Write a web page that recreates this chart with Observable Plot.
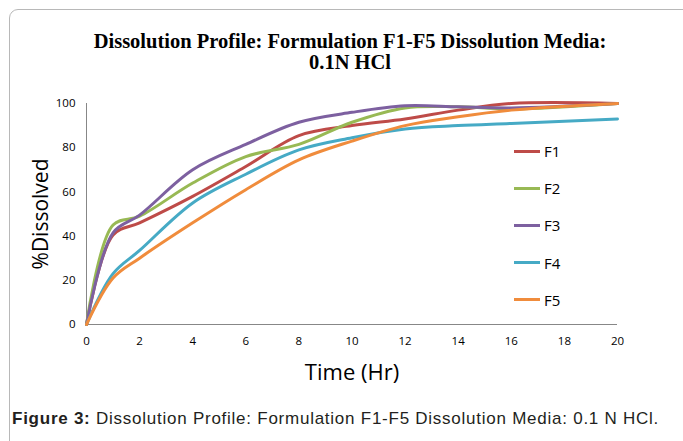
<!DOCTYPE html>
<html>
<head>
<meta charset="utf-8">
<script src="https://cdn.jsdelivr.net/npm/d3@7"></script>
<script src="https://cdn.jsdelivr.net/npm/@observablehq/plot@0.6"></script>
<style>
  html, body { margin: 0; padding: 0; background: #fff; }
  #fig { position: relative; width: 683px; height: 441px; overflow: hidden; font-family: "Open Sans", sans-serif; }
  #frame { position: absolute; left: 9px; top: 9px; width: 700px; height: 470px; border: 1.5px solid #b8b8b8; border-radius: 9px; box-sizing: border-box; }
  #title { position: absolute; left: 40px; width: 620px; top: 31px; text-align: center; font-family: "Liberation Serif", serif; font-weight: bold; font-size: 20.5px; line-height: 21px; color: #000; }
  #chart { position: absolute; left: 0; top: 88px; }
  #legend { position: absolute; left: 514px; top: 0; }
  .item { position: absolute; left: 0; height: 20px; display: flex; align-items: center; white-space: nowrap; font-size: 15px; color: #000; }
  .sw { width: 26px; height: 3px; margin-right: 4px; }
  #caption { position: absolute; left: 12px; top: 409px; font-family: "Liberation Sans", Arial, sans-serif; font-size: 17px; letter-spacing: 0.75px; color: #231f20; white-space: nowrap; }
  #chart svg g[aria-label="y-axis label"] text { font-size: 21px; font-family: "Open Sans", sans-serif; fill: #000; }
  #chart svg g[aria-label="x-axis label"] text { font-size: 22px; font-family: "Open Sans", sans-serif; fill: #000; }
</style>
</head>
<body>
<div id="fig">
  <div id="frame"></div>
  <div id="title">Dissolution Profile: Formulation F1-F5 Dissolution Media:<br>0.1N HCl</div>
  <div id="chart"></div>
  <div id="legend"></div>
  <div id="caption"><b>Figure 3:</b> Dissolution Profile: Formulation F1-F5 Dissolution Media: 0.1 N HCl.</div>
</div>
<script>
const series = ["F1", "F2", "F3", "F4", "F5"];
const colors = ["#BE4B48", "#98B954", "#7D60A0", "#46AAC5", "#F08C3C"];
const time = [0, 1, 2, 4, 6, 8, 10, 12, 14, 16, 20];
const F1 = [0, 40.5, 46, 58, 71.5, 85.5, 90, 93, 97, 100, 100];
const F2 = [0, 45, 49, 64, 76, 81.5, 91.5, 98, 98.5, 97.5, 100];
const F3 = [0, 41.5, 49.5, 70, 81.5, 91.5, 96, 99, 98.5, 98, 100];
const F4 = [0, 23, 33.5, 55, 68, 79, 84.5, 88.5, 90, 91, 93];
const F5 = [0, 21, 30, 46, 61, 74.5, 83, 90, 94, 97, 100];
const xTicks = [0, 2, 4, 6, 8, 10, 12, 14, 16, 18, 20];
const yTicks = [0, 20, 40, 60, 80, 100];

const values = [F1, F2, F3, F4, F5];
const data = [];
series.forEach((s, i) => time.forEach((t, j) => data.push({series: s, time: t, value: values[i][j]})));

const chart = Plot.plot({
  width: 683,
  height: 312,
  marginLeft: 86,
  marginRight: 66,
  marginTop: 15,
  marginBottom: 76,
  style: {fontFamily: "Open Sans, sans-serif", fontSize: "11.5px", color: "#000", background: "transparent"},
  x: {domain: [0, 20]},
  y: {domain: [0, 100]},
  color: {domain: series, range: colors},
  marks: [
    Plot.axisX({ticks: xTicks, tickSize: 0, tickPadding: 12, label: "Time (Hr)", labelAnchor: "center", labelOffset: 55, labelArrow: "none"}),
    Plot.axisY({ticks: yTicks, tickSize: 0, tickPadding: 11, label: "%Dissolved", labelAnchor: "center", labelOffset: 53, labelArrow: "none"}),
    Plot.ruleX([0], {stroke: "#878787", strokeWidth: 1}),
    Plot.ruleY([0], {stroke: "#878787", strokeWidth: 1}),
    Plot.line(data, {x: "time", y: "value", z: "series", stroke: "series", curve: "catmull-rom", strokeWidth: 3})
  ]
});
document.getElementById("chart").appendChild(chart);

const legend = document.getElementById("legend");
series.forEach((s, i) => {
  const item = document.createElement("div");
  item.className = "item";
  item.style.top = (141 + i * 37.2) + "px";
  const sw = document.createElement("span");
  sw.className = "sw";
  sw.style.background = colors[i];
  const lab = document.createElement("span");
  lab.textContent = s;
  item.appendChild(sw);
  item.appendChild(lab);
  legend.appendChild(item);
});
</script>
</body>
</html>
